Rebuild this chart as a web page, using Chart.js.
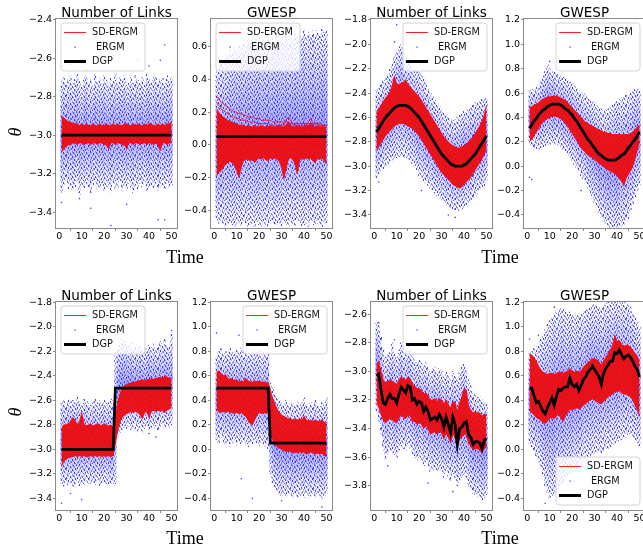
<!DOCTYPE html>
<html>
<head>
<meta charset="utf-8">
<script src="https://cdn.jsdelivr.net/npm/chart.js@4.4.1/dist/chart.umd.min.js"></script>
<style>
  body { margin: 0; width: 643px; height: 550px; overflow: hidden; background: #fff; position: relative; }
  canvas { position: absolute; }
  .title { position: absolute; font: 13.5px "DejaVu Sans"; text-align: center; line-height: 14px; color: #000; white-space: nowrap; }
  .lab { position: absolute; transform: translate(-50%, -50%); font: 18px "Liberation Serif"; color: #000; }
  .theta { position: absolute; transform: translate(-50%, -50%) rotate(-90deg); font: italic 18px "Liberation Serif"; color: #000; }
</style>
</head>
<body>
<script>
const time = [1,2,3,4,5,6,7,8,9,10,11,12,13,14,15,16,17,18,19,20,21,22,23,24,25,
  26,27,28,29,30,31,32,33,34,35,36,37,38,39,40,41,42,43,44,45,46,47,48,49,50];
const xTicks = [0, 10, 20, 30, 40, 50];
const yTicks1 = [-3.4, -3.2, -3.0, -2.8, -2.6, -2.4];
const yTicks2 = [-0.4, -0.2, 0.0, 0.2, 0.4, 0.6];
const yTicks3 = [-3.4, -3.2, -3.0, -2.8, -2.6, -2.4, -2.2, -2.0, -1.8];
const yTicks4 = [-0.4, -0.2, 0.0, 0.2, 0.4, 0.6, 0.8, 1.0, 1.2];
const yTicks7 = [-3.8, -3.6, -3.4, -3.2, -3.0, -2.8, -2.6];

// panel 1: Number of Links, constant
const dgp1T = [1, 50];
const dgp1 = [-3.0, -3.0];
const red1Hi = [-2.90,-2.91,-2.92,-2.93,-2.93,-2.94,-2.94,-2.94,-2.95,-2.94,
  -2.95,-2.94,-2.95,-2.95,-2.94,-2.95,-2.95,-2.94,-2.95,-2.95,
  -2.94,-2.95,-2.95,-2.94,-2.95,-2.94,-2.95,-2.95,-2.94,-2.94,
  -2.95,-2.95,-2.94,-2.95,-2.94,-2.95,-2.95,-2.94,-2.95,-2.94,
  -2.94,-2.95,-2.95,-2.94,-2.95,-2.94,-2.95,-2.94,-2.94,-2.93];
const red1Lo = [-3.09,-3.07,-3.06,-3.05,-3.05,-3.04,-3.04,-3.05,-3.04,-3.04,
  -3.05,-3.04,-3.04,-3.05,-3.04,-3.04,-3.05,-3.04,-3.04,-3.05,
  -3.05,-3.07,-3.04,-3.04,-3.05,-3.04,-3.04,-3.05,-3.05,-3.07,
  -3.04,-3.04,-3.05,-3.04,-3.04,-3.05,-3.04,-3.04,-3.05,-3.04,
  -3.04,-3.05,-3.04,-3.05,-3.08,-3.04,-3.04,-3.05,-3.04,-3.04];
const blue1Hi = [-2.72,-2.70,-2.74,-2.71,-2.69,-2.73,-2.70,-2.68,-2.72,-2.75,
  -2.70,-2.69,-2.73,-2.71,-2.74,-2.68,-2.72,-2.70,-2.73,-2.69,
  -2.71,-2.74,-2.70,-2.72,-2.68,-2.73,-2.70,-2.71,-2.69,-2.74,
  -2.72,-2.70,-2.73,-2.69,-2.71,-2.72,-2.70,-2.74,-2.68,-2.71,
  -2.73,-2.70,-2.69,-2.72,-2.71,-2.70,-2.73,-2.69,-2.72,-2.70];
const blue1Lo = [-3.30,-3.27,-3.25,-3.28,-3.26,-3.29,-3.27,-3.24,-3.31,-3.26,
  -3.28,-3.25,-3.27,-3.30,-3.26,-3.24,-3.28,-3.27,-3.25,-3.29,
  -3.27,-3.26,-3.30,-3.25,-3.28,-3.27,-3.24,-3.29,-3.26,-3.28,
  -3.25,-3.27,-3.30,-3.26,-3.28,-3.25,-3.27,-3.24,-3.29,-3.27,
  -3.26,-3.28,-3.25,-3.30,-3.27,-3.26,-3.28,-3.25,-3.27,-3.26];
const out1X = [1, 5, 9, 12, 14, 23, 30, 35, 40, 44, 45, 47, 47];
const out1Y = [-3.35, -2.63, -3.33, -2.66, -3.38, -3.47, -3.36, -2.61, -2.64, -3.44, -2.61, -2.53, -3.44];

// panel 2: GWESP, constant
const dgp2T = [1, 50];
const dgp2 = [0.05, 0.05];
const red2Hi = [0.22,0.20,0.18,0.17,0.16,0.15,0.14,0.14,0.13,0.13,
  0.12,0.12,0.12,0.11,0.12,0.11,0.11,0.12,0.11,0.11,
  0.12,0.11,0.11,0.11,0.12,0.11,0.11,0.11,0.12,0.11,
  0.11,0.12,0.14,0.12,0.11,0.11,0.12,0.11,0.11,0.11,
  0.12,0.12,0.13,0.11,0.11,0.12,0.11,0.11,0.11,0.11];
const red2Lo = [-0.19,-0.17,-0.16,-0.14,-0.12,-0.11,-0.10,-0.11,-0.13,-0.16,
  -0.20,-0.14,-0.10,-0.09,-0.09,-0.10,-0.09,-0.11,-0.09,-0.08,
  -0.09,-0.08,-0.09,-0.10,-0.08,-0.09,-0.08,-0.09,-0.10,-0.14,
  -0.21,-0.15,-0.09,-0.08,-0.09,-0.12,-0.18,-0.10,-0.08,-0.09,
  -0.08,-0.09,-0.08,-0.10,-0.11,-0.08,-0.09,-0.08,-0.10,-0.12];
const red2Top = [0.30,0.28,0.26,0.25,0.24,0.23,0.22,0.21,0.20,0.20,
  0.19,0.19,0.18,0.18,0.17,0.17,0.17,0.16,0.16,0.16,
  0.15,0.15,0.15,0.15,0.15,0.14,0.14,0.14,0.14,0.14,
  0.14,0.14,0.14,0.13,0.13,0.13,0.13,0.13,0.13,0.13,
  0.13,0.13,0.13,0.13,0.13,0.13,0.12,0.12,0.12,0.12];
const red2Mid = [0.26,0.24,0.22,0.21,0.20,0.19,0.18,0.17,0.17,0.16,
  0.16,0.15,0.15,0.15,0.14,0.14,0.14,0.14,0.13,0.13,
  0.13,0.13,0.13,0.13,0.12,0.12,0.12,0.12,0.12,0.12,
  0.12,0.15,0.17,0.15,0.12,0.12,0.12,0.12,0.12,0.12,
  0.12,0.14,0.16,0.12,0.12,0.14,0.12,0.12,0.12,0.12];
const blue2Hi = [0.45,0.47,0.50,0.52,0.55,0.54,0.58,0.56,0.60,0.58,
  0.62,0.60,0.64,0.61,0.66,0.63,0.62,0.65,0.60,0.66,
  0.62,0.64,0.61,0.67,0.63,0.65,0.62,0.68,0.64,0.66,
  0.63,0.69,0.65,0.67,0.64,0.70,0.66,0.68,0.65,0.70,
  0.67,0.69,0.66,0.71,0.68,0.70,0.67,0.72,0.69,0.70];
const blue2Lo = [-0.46,-0.48,-0.47,-0.49,-0.50,-0.48,-0.47,-0.49,-0.50,-0.48,
  -0.49,-0.50,-0.47,-0.48,-0.50,-0.49,-0.48,-0.50,-0.47,-0.49,
  -0.50,-0.48,-0.49,-0.50,-0.47,-0.48,-0.50,-0.49,-0.48,-0.50,
  -0.47,-0.49,-0.50,-0.48,-0.49,-0.50,-0.47,-0.48,-0.50,-0.49,
  -0.48,-0.50,-0.47,-0.49,-0.50,-0.48,-0.49,-0.50,-0.47,-0.48];
const out2X = [3, 5, 12, 20, 30, 44, 47, 50];
const out2Y = [0.70, 0.74, 0.71, 0.72, 0.70, 0.63, 0.66, 0.60];

// panel 3: Number of Links, sine
const dgp3 = [-2.72,-2.69,-2.66,-2.63,-2.60,-2.58,-2.56,-2.54,-2.52,-2.51,
  -2.50,-2.50,-2.50,-2.50,-2.51,-2.52,-2.54,-2.56,-2.58,-2.60,
  -2.63,-2.66,-2.69,-2.72,-2.75,-2.78,-2.81,-2.84,-2.87,-2.90,
  -2.92,-2.94,-2.96,-2.98,-2.99,-3.00,-3.00,-3.00,-3.00,-2.99,
  -2.98,-2.96,-2.94,-2.92,-2.90,-2.87,-2.84,-2.81,-2.78,-2.75];
const red3Hi = [-2.57,-2.53,-2.50,-2.47,-2.44,-2.42,-2.39,-2.34,-2.26,-2.33,
  -2.33,-2.32,-2.31,-2.29,-2.33,-2.35,-2.37,-2.39,-2.41,-2.43,
  -2.46,-2.49,-2.52,-2.55,-2.58,-2.61,-2.64,-2.67,-2.70,-2.73,
  -2.76,-2.78,-2.80,-2.82,-2.83,-2.84,-2.85,-2.85,-2.84,-2.83,
  -2.82,-2.80,-2.78,-2.76,-2.73,-2.70,-2.67,-2.63,-2.58,-2.50];
const red3Lo = [-2.87,-2.84,-2.81,-2.78,-2.75,-2.73,-2.71,-2.69,-2.67,-2.66,
  -2.65,-2.65,-2.65,-2.66,-2.67,-2.68,-2.69,-2.71,-2.73,-2.75,
  -2.78,-2.81,-2.84,-2.87,-2.90,-2.93,-2.96,-2.99,-3.02,-3.05,
  -3.07,-3.09,-3.11,-3.13,-3.15,-3.16,-3.17,-3.18,-3.17,-3.15,
  -3.13,-3.11,-3.09,-3.06,-3.03,-3.00,-2.97,-2.94,-2.90,-2.86];
const blue3Hi = [-2.38,-2.36,-2.33,-2.30,-2.28,-2.25,-2.20,-2.16,-2.10,-2.05,
  -2.02,-2.00,-2.05,-2.10,-2.12,-2.15,-2.18,-2.20,-2.22,-2.22,
  -2.25,-2.28,-2.32,-2.36,-2.40,-2.43,-2.46,-2.49,-2.51,-2.54,
  -2.56,-2.58,-2.60,-2.61,-2.62,-2.62,-2.60,-2.58,-2.57,-2.55,
  -2.54,-2.53,-2.52,-2.50,-2.48,-2.47,-2.46,-2.45,-2.44,-2.44];
const blue3Lo = [-3.10,-3.06,-3.04,-3.02,-3.00,-2.98,-2.96,-2.95,-2.94,-2.93,
  -2.92,-2.92,-2.92,-2.93,-2.94,-2.96,-2.98,-3.00,-3.03,-3.08,
  -3.10,-3.12,-3.14,-3.16,-3.18,-3.20,-3.22,-3.24,-3.26,-3.28,
  -3.30,-3.32,-3.33,-3.34,-3.35,-3.36,-3.36,-3.36,-3.35,-3.34,
  -3.33,-3.31,-3.29,-3.27,-3.25,-3.22,-3.20,-3.18,-3.16,-3.12];
const out3X = [10, 9, 21, 33, 36, 2];
const out3Y = [-1.84, -1.98, -3.20, -3.40, -3.42, -3.13];

// panel 4: GWESP, sine
const dgp4 = [0.31,0.34,0.37,0.39,0.42,0.44,0.46,0.47,0.49,0.50,
  0.51,0.51,0.51,0.51,0.50,0.49,0.47,0.46,0.44,0.42,
  0.39,0.37,0.34,0.31,0.28,0.25,0.22,0.20,0.17,0.15,
  0.12,0.10,0.09,0.07,0.06,0.05,0.05,0.05,0.05,0.06,
  0.07,0.09,0.10,0.12,0.15,0.17,0.20,0.22,0.25,0.28];
const red4Hi = [0.48,0.49,0.50,0.51,0.52,0.54,0.55,0.56,0.57,0.57,
  0.57,0.58,0.57,0.57,0.56,0.55,0.54,0.52,0.50,0.48,
  0.46,0.44,0.42,0.40,0.38,0.36,0.35,0.34,0.33,0.32,
  0.31,0.30,0.29,0.28,0.28,0.27,0.27,0.26,0.26,0.26,
  0.26,0.26,0.26,0.26,0.26,0.27,0.28,0.30,0.32,0.34];
const red4Lo = [0.20,0.22,0.25,0.28,0.31,0.34,0.36,0.38,0.39,0.40,
  0.41,0.41,0.41,0.40,0.39,0.37,0.35,0.33,0.30,0.27,
  0.24,0.21,0.18,0.15,0.13,0.11,0.09,0.08,0.07,0.05,
  0.04,0.02,0.01,0.00,-0.02,-0.03,-0.04,-0.05,-0.06,-0.08,
  -0.10,-0.12,-0.16,-0.10,-0.07,-0.04,0.00,0.06,0.13,0.20];
const blue4Hi = [0.62,0.63,0.64,0.65,0.66,0.70,0.74,0.78,0.84,0.80,
  0.78,0.78,0.76,0.75,0.74,0.73,0.72,0.70,0.69,0.68,
  0.66,0.64,0.62,0.60,0.60,0.58,0.56,0.55,0.53,0.52,
  0.50,0.48,0.47,0.46,0.46,0.47,0.48,0.50,0.52,0.53,
  0.55,0.56,0.57,0.58,0.58,0.60,0.62,0.63,0.64,0.62];
const blue4Lo = [0.18,0.16,0.15,0.14,0.14,0.15,0.16,0.17,0.18,0.18,
  0.19,0.19,0.18,0.17,0.16,0.14,0.12,0.10,0.07,0.04,
  0.01,-0.02,-0.05,-0.08,-0.11,-0.14,-0.18,-0.22,-0.26,-0.30,
  -0.34,-0.38,-0.42,-0.45,-0.47,-0.49,-0.50,-0.50,-0.50,-0.50,
  -0.50,-0.49,-0.48,-0.46,-0.43,-0.38,-0.32,-0.26,-0.20,-0.15];
const out4X = [1, 2, 10, 24];
const out4Y = [-0.09, -0.11, 0.86, -0.20];

// panel 5: Number of Links, step
const dgp5T = [1, 24, 25, 50];
const dgp5 = [-3.0, -3.0, -2.5, -2.5];
const red5Hi = [-2.83,-2.80,-2.80,-2.79,-2.77,-2.74,-2.76,-2.80,-2.78,-2.70,
  -2.79,-2.81,-2.80,-2.79,-2.81,-2.80,-2.79,-2.80,-2.81,-2.79,
  -2.80,-2.81,-2.80,-2.82,-2.75,-2.62,-2.55,-2.50,-2.48,-2.47,
  -2.46,-2.46,-2.45,-2.45,-2.44,-2.44,-2.43,-2.44,-2.43,-2.43,
  -2.42,-2.43,-2.42,-2.42,-2.41,-2.42,-2.40,-2.41,-2.42,-2.42];
const red5Lo = [-3.14,-3.10,-3.08,-3.07,-3.06,-3.06,-3.05,-3.06,-3.05,-3.06,
  -3.05,-3.06,-3.06,-3.05,-3.06,-3.05,-3.06,-3.05,-3.06,-3.05,
  -3.06,-3.05,-3.06,-3.05,-2.95,-2.85,-2.78,-2.74,-2.72,-2.71,
  -2.70,-2.69,-2.70,-2.69,-2.70,-2.72,-2.75,-2.70,-2.69,-2.74,
  -2.69,-2.68,-2.69,-2.68,-2.69,-2.68,-2.70,-2.68,-2.67,-2.66];
const blue5Hi = [-2.62,-2.60,-2.63,-2.58,-2.61,-2.60,-2.62,-2.57,-2.61,-2.63,
  -2.59,-2.62,-2.60,-2.64,-2.61,-2.59,-2.62,-2.60,-2.63,-2.60,
  -2.61,-2.62,-2.59,-2.60,-2.22,-2.18,-2.14,-2.10,-2.12,-2.14,
  -2.16,-2.13,-2.18,-2.15,-2.17,-2.14,-2.19,-2.16,-2.18,-2.15,
  -2.17,-2.14,-2.18,-2.16,-2.12,-2.14,-2.10,-2.15,-2.16,-2.06];
const blue5Lo = [-3.28,-3.30,-3.26,-3.29,-3.27,-3.31,-3.28,-3.26,-3.30,-3.27,
  -3.29,-3.26,-3.30,-3.28,-3.27,-3.29,-3.26,-3.30,-3.28,-3.27,
  -3.29,-3.28,-3.30,-3.28,-3.30,-2.90,-2.86,-2.84,-2.82,-2.83,
  -2.81,-2.84,-2.82,-2.83,-2.85,-2.82,-2.86,-2.83,-2.81,-2.84,
  -2.82,-2.83,-2.81,-2.84,-2.82,-2.80,-2.83,-2.81,-2.82,-2.80];
const out5X = [1, 10, 5, 40, 43, 29, 50];
const out5Y = [-3.44, -3.41, -3.36, -2.87, -2.90, -2.05, -2.03];

// panel 6: GWESP, step
const dgp6T = [1, 24, 25, 50];
const dgp6 = [0.5, 0.5, 0.05, 0.05];
const red6Hi = [0.63,0.64,0.62,0.60,0.61,0.58,0.57,0.58,0.56,0.57,
  0.55,0.56,0.55,0.58,0.56,0.55,0.55,0.56,0.55,0.56,
  0.55,0.55,0.54,0.55,0.48,0.42,0.37,0.33,0.30,0.28,
  0.27,0.26,0.25,0.25,0.24,0.25,0.24,0.25,0.24,0.27,
  0.24,0.23,0.24,0.23,0.24,0.23,0.23,0.24,0.22,0.22];
const red6Lo = [0.32,0.31,0.30,0.31,0.30,0.31,0.30,0.30,0.29,0.30,
  0.29,0.30,0.28,0.27,0.24,0.21,0.20,0.24,0.28,0.30,
  0.29,0.30,0.29,0.31,0.15,0.08,0.04,0.02,0.01,0.00,
  -0.01,-0.02,-0.01,-0.02,-0.03,-0.02,-0.03,-0.02,-0.03,-0.02,
  -0.04,-0.03,-0.02,-0.03,-0.04,-0.03,-0.04,-0.03,-0.05,-0.06];
const blue6Hi = [0.76,0.80,0.82,0.78,0.81,0.79,0.83,0.80,0.78,0.82,
  0.80,0.83,0.79,0.81,0.80,0.78,0.82,0.80,0.79,0.81,
  0.77,0.80,0.78,0.79,0.55,0.50,0.45,0.42,0.40,0.38,
  0.37,0.40,0.36,0.38,0.37,0.35,0.39,0.36,0.38,0.42,
  0.37,0.35,0.38,0.36,0.40,0.37,0.35,0.38,0.36,0.42];
const blue6Lo = [0.08,0.05,0.10,0.06,0.04,0.07,0.02,0.05,0.08,0.03,
  0.06,0.04,0.07,0.05,0.02,0.06,0.04,0.08,0.05,0.03,
  0.06,0.04,0.02,0.00,-0.20,-0.28,-0.32,-0.35,-0.36,-0.38,
  -0.37,-0.39,-0.36,-0.38,-0.40,-0.37,-0.39,-0.38,-0.36,-0.39,
  -0.37,-0.40,-0.38,-0.36,-0.39,-0.37,-0.38,-0.40,-0.38,-0.36];
const out6X = [1, 11, 12, 17, 48, 30];
const out6Y = [0.95, 0.93, -0.24, -0.40, -0.47, -0.42];

// panel 7: Number of Links, random walk
const dgp7 = [-3.03,-3.02,-3.13,-3.22,-3.23,-3.19,-3.16,-3.19,-3.19,-3.22,
  -3.16,-3.11,-3.13,-3.15,-3.10,-3.11,-3.20,-3.19,-3.23,-3.21,
  -3.22,-3.28,-3.25,-3.28,-3.34,-3.33,-3.32,-3.34,-3.30,-3.33,
  -3.39,-3.32,-3.37,-3.43,-3.32,-3.37,-3.51,-3.40,-3.39,-3.36,
  -3.35,-3.44,-3.46,-3.51,-3.49,-3.49,-3.50,-3.54,-3.48,-3.47];
const red7Hi = [-2.95,-2.93,-3.00,-3.06,-3.08,-3.07,-3.06,-3.07,-3.08,-3.09,
  -3.06,-3.04,-3.05,-3.06,-3.04,-3.05,-3.09,-3.10,-3.12,-3.12,
  -3.13,-3.16,-3.15,-3.17,-3.20,-3.20,-3.19,-3.21,-3.19,-3.20,
  -3.23,-3.20,-3.23,-3.26,-3.21,-3.22,-3.28,-3.22,-3.18,-3.12,
  -3.13,-3.24,-3.27,-3.29,-3.28,-3.29,-3.29,-3.31,-3.30,-3.30];
const red7Lo = [-3.22,-3.25,-3.30,-3.34,-3.36,-3.34,-3.33,-3.34,-3.35,-3.36,
  -3.33,-3.30,-3.32,-3.33,-3.31,-3.31,-3.35,-3.35,-3.37,-3.36,
  -3.37,-3.40,-3.38,-3.40,-3.44,-3.43,-3.42,-3.44,-3.42,-3.43,
  -3.47,-3.43,-3.46,-3.50,-3.44,-3.46,-3.53,-3.47,-3.46,-3.44,
  -3.44,-3.50,-3.52,-3.55,-3.54,-3.54,-3.55,-3.57,-3.54,-3.53];
const blue7Hi = [-2.65,-2.68,-2.75,-2.85,-2.90,-2.88,-2.87,-2.80,-2.88,-2.90,
  -2.85,-2.80,-2.84,-2.86,-2.83,-2.85,-2.90,-2.92,-2.94,-2.92,
  -2.93,-2.96,-2.94,-2.97,-3.00,-2.98,-2.97,-3.00,-2.98,-3.00,
  -3.04,-3.00,-3.02,-3.06,-3.00,-3.02,-3.06,-3.00,-2.97,-2.95,
  -2.98,-3.06,-3.10,-3.14,-3.16,-3.18,-3.18,-3.20,-3.22,-3.22];
const blue7Lo = [-3.28,-3.35,-3.45,-3.55,-3.62,-3.58,-3.55,-3.57,-3.58,-3.60,
  -3.55,-3.52,-3.54,-3.55,-3.52,-3.54,-3.58,-3.60,-3.62,-3.60,
  -3.62,-3.66,-3.63,-3.66,-3.70,-3.69,-3.68,-3.70,-3.68,-3.70,
  -3.74,-3.70,-3.73,-3.77,-3.72,-3.74,-3.80,-3.76,-3.74,-3.72,
  -3.74,-3.80,-3.83,-3.86,-3.86,-3.87,-3.88,-3.90,-3.88,-3.86];
const out7X = [9, 24, 35, 2, 6];
const out7Y = [-2.78, -3.78, -3.84, -2.66, -3.66];

// panel 8: GWESP, random walk
const dgp8 = [0.50,0.50,0.44,0.38,0.39,0.35,0.31,0.29,0.34,0.38,
  0.42,0.36,0.43,0.49,0.48,0.50,0.51,0.51,0.58,0.53,
  0.51,0.53,0.48,0.52,0.57,0.59,0.63,0.65,0.68,0.65,
  0.62,0.59,0.53,0.62,0.66,0.69,0.72,0.72,0.79,0.78,
  0.81,0.77,0.74,0.76,0.77,0.75,0.72,0.68,0.65,0.59];
const red8Hi = [0.78,0.77,0.75,0.72,0.68,0.65,0.63,0.62,0.61,0.62,
  0.62,0.61,0.62,0.63,0.63,0.62,0.63,0.64,0.66,0.64,
  0.63,0.64,0.63,0.64,0.67,0.69,0.71,0.72,0.74,0.74,
  0.73,0.71,0.69,0.72,0.75,0.78,0.81,0.85,0.93,0.88,
  0.89,0.86,0.84,0.85,0.85,0.83,0.81,0.78,0.76,0.72];
const red8Lo = [0.32,0.30,0.28,0.26,0.25,0.24,0.22,0.21,0.23,0.25,
  0.26,0.25,0.27,0.29,0.25,0.23,0.27,0.30,0.33,0.32,
  0.33,0.34,0.33,0.34,0.36,0.37,0.39,0.40,0.41,0.40,
  0.39,0.38,0.37,0.39,0.41,0.43,0.44,0.45,0.47,0.47,
  0.48,0.46,0.45,0.45,0.44,0.43,0.40,0.36,0.32,0.27];
const blue8Hi = [0.78,0.80,0.82,0.84,0.86,0.90,0.94,0.98,1.02,1.05,
  1.08,1.10,1.12,1.14,1.15,1.14,1.12,1.10,1.12,1.10,
  1.08,1.10,1.09,1.10,1.12,1.14,1.15,1.16,1.18,1.18,
  1.17,1.16,1.15,1.17,1.19,1.20,1.20,1.20,1.20,1.20,
  1.20,1.20,1.20,1.19,1.18,1.16,1.12,1.08,1.04,1.00];
const blue8Lo = [0.05,0.02,-0.02,-0.06,-0.10,-0.15,-0.22,-0.30,-0.35,-0.40,
  -0.38,-0.36,-0.34,-0.30,-0.30,-0.28,-0.25,-0.22,-0.20,-0.20,
  -0.18,-0.16,-0.15,-0.12,-0.10,-0.08,-0.06,-0.05,-0.04,-0.03,
  -0.02,-0.02,-0.03,-0.01,0.00,0.00,0.02,0.04,0.05,0.06,
  0.07,0.08,0.10,0.10,0.12,0.12,0.10,0.08,0.05,0.02];
const out8X = [1, 5, 8, 12];
const out8Y = [0.90, 0.93, -0.44, 1.16];

const panels = [
  { title: "Number of Links", left: 56, top: 19, h: 209, min: -3.483, max: -2.395, yTicks: yTicks1,
    dgpT: dgp1T, dgp: dgp1, redHi: red1Hi, redLo: red1Lo, extra: [], blueHi: blue1Hi, blueLo: blue1Lo, outX: out1X, outY: out1Y, legend: "ul" },
  { title: "GWESP", left: 211, top: 19, h: 209, min: -0.51, max: 0.77, yTicks: yTicks2,
    dgpT: dgp2T, dgp: dgp2, redHi: red2Hi, redLo: red2Lo, extra: [red2Top, red2Mid], blueHi: blue2Hi, blueLo: blue2Lo, outX: out2X, outY: out2Y, legend: "ul" },
  { title: "Number of Links", left: 371, top: 19, h: 209, min: -3.507, max: -1.792, yTicks: yTicks3,
    dgpT: time, dgp: dgp3, redHi: red3Hi, redLo: red3Lo, extra: [], blueHi: blue3Hi, blueLo: blue3Lo, outX: out3X, outY: out3Y, legend: "ur" },
  { title: "GWESP", left: 524, top: 19, h: 209, min: -0.507, max: 1.208, yTicks: yTicks4,
    dgpT: time, dgp: dgp4, redHi: red4Hi, redLo: red4Lo, extra: [], blueHi: blue4Hi, blueLo: blue4Lo, outX: out4X, outY: out4Y, legend: "ur" },
  { title: "Number of Links", left: 56, top: 302, h: 208, min: -3.495, max: -1.797, yTicks: yTicks3,
    dgpT: dgp5T, dgp: dgp5, redHi: red5Hi, redLo: red5Lo, extra: [], blueHi: blue5Hi, blueLo: blue5Lo, outX: out5X, outY: out5Y, legend: "ul" },
  { title: "GWESP", left: 211, top: 302, h: 208, min: -0.495, max: 1.202, yTicks: yTicks4,
    dgpT: dgp6T, dgp: dgp6, redHi: red6Hi, redLo: red6Lo, extra: [], blueHi: blue6Hi, blueLo: blue6Lo, outX: out6X, outY: out6Y, legend: "ur" },
  { title: "Number of Links", left: 371, top: 302, h: 208, min: -3.968, max: -2.516, yTicks: yTicks7,
    dgpT: time, dgp: dgp7, redHi: red7Hi, redLo: red7Lo, extra: [], blueHi: blue7Hi, blueLo: blue7Lo, outX: out7X, outY: out7Y, legend: "ur" },
  { title: "GWESP", left: 524, top: 302, h: 208, min: -0.495, max: 1.202, yTicks: yTicks4,
    dgpT: time, dgp: dgp8, redHi: red8Hi, redLo: red8Lo, extra: [], blueHi: blue8Hi, blueLo: blue8Lo, outX: out8X, outY: out8Y, legend: "lr" },
];

const PW = 121;   // plot width
const tickFont = { family: "DejaVu Sans", size: 9.5 };

/* speckle used for the ERGM estimate columns: short vertical dashes, irregular rows */
const dotPat = (() => {
  const rows = "05386127945083167249350861942773501682490538716";
  const W = 23, H = 10;
  const c = document.createElement("canvas");
  c.width = W; c.height = H;
  const g = c.getContext("2d");
  for (let i = 0; i < W; i++) {
    g.fillStyle = "rgba(20,20,255,0.8)";
    g.fillRect(i, +rows[2 * i], 1, 2);
    g.fillStyle = "rgba(40,40,255,0.4)";
    g.fillRect(i, +rows[2 * i + 1], 1, 2);
  }
  return g.createPattern(c, "repeat");
})();

/* denser blue towards the middle of each column */
function coreShade(c) {
  const ys = c.chart.scales.y;
  const v = c.raw && c.raw.y;
  if (!ys || !v) return "rgba(40,40,255,0.2)";
  const top = ys.getPixelForValue(v[1]), bot = ys.getPixelForValue(v[0]);
  if (!isFinite(top) || !isFinite(bot) || bot - top < 1) return "rgba(40,40,255,0.2)";
  const g = c.chart.ctx.createLinearGradient(0, top, 0, bot);
  g.addColorStop(0, "rgba(40,40,255,0)");
  g.addColorStop(0.5, "rgba(40,40,255,0.45)");
  g.addColorStop(1, "rgba(40,40,255,0)");
  return g;
}

const pts = (xs, ys) => xs.map((x, i) => ({ x: x, y: ys[i] }));
const fmt = (v) => (v < -1e-9 ? "\u2212" : "") + Math.abs(v).toFixed(1);

/* frame + matplotlib-like legend box */
function framePlugin(pos) {
  return {
    id: "frameLegend",
    afterDraw(chart) {
      const { ctx, chartArea: a } = chart;
      ctx.save();
      ctx.strokeStyle = "#8a8a8a";
      ctx.lineWidth = 1;
      ctx.strokeRect(Math.round(a.left) - 0.5, Math.round(a.top) - 0.5,
        Math.round(a.right - a.left) + 1, Math.round(a.bottom - a.top) + 1);

      const w = 84, h = 48;
      const x = pos === "ul" ? a.left + 5 : a.right - 5 - w;
      const y = pos === "lr" ? a.bottom - 5 - h : a.top + 4;
      ctx.beginPath();
      ctx.roundRect(x, y, w, h, 3);
      ctx.fillStyle = "rgba(255,255,255,0.8)";
      ctx.fill();
      ctx.strokeStyle = "#d4d4d4";
      ctx.stroke();

      const r1 = y + 9.5, r2 = y + 24, r3 = y + 38.5;
      ctx.strokeStyle = "#ff2020";
      ctx.lineWidth = 1;
      ctx.beginPath(); ctx.moveTo(x + 3, r1); ctx.lineTo(x + 25, r1); ctx.stroke();
      ctx.fillStyle = "rgba(20,20,255,0.9)";
      ctx.fillRect(x + 13.5, r2 - 0.5, 1.2, 1.2);
      ctx.strokeStyle = "#000";
      ctx.lineWidth = 3;
      ctx.beginPath(); ctx.moveTo(x + 3, r3); ctx.lineTo(x + 25, r3); ctx.stroke();

      ctx.fillStyle = "#111";
      ctx.font = "9.7px 'DejaVu Sans'";
      ctx.textBaseline = "middle";
      ctx.fillText("SD-ERGM", x + 31, r1);
      ctx.fillText("ERGM", x + 35, r2);
      ctx.fillText("DGP", x + 31, r3);
      ctx.restore();
    },
  };
}

function makePanel(p) {
  const cv = document.createElement("canvas");
  cv.width = PW + 50;
  cv.height = p.h + 30;
  cv.style.left = (p.left - 46) + "px";
  cv.style.top = (p.top - 8) + "px";
  document.body.appendChild(cv);

  const t = document.createElement("div");
  t.className = "title";
  t.style.left = p.left + "px";
  t.style.width = PW + "px";
  t.style.top = (p.top - 14) + "px";
  t.textContent = p.title;
  document.body.appendChild(t);

  const ergm = time.map((x, i) => ({ x: x, y: [p.blueLo[i], p.blueHi[i]] }));
  const redLine = { borderColor: "rgba(255,0,0,0.95)", borderWidth: 0.8, pointRadius: 0, fill: false, clip: 0 };

  new Chart(cv, {
    type: "line",
    data: {
      datasets: [
        { label: "DGP", data: pts(p.dgpT, p.dgp), borderColor: "#000", borderWidth: 2.8,
          pointRadius: 0, fill: false, clip: 0 },
        { ...redLine, label: "SD-ERGM", data: pts(time, p.redHi), fill: "+1", backgroundColor: "rgba(238,8,8,0.92)" },
        { ...redLine, label: "SD-ERGM low", data: pts(time, p.redLo) },
        ...p.extra.map((arr) => ({ ...redLine, label: "SD-ERGM path", data: pts(time, arr) })),
        { type: "bar", label: "ERGM", data: ergm,
          backgroundColor: dotPat, borderWidth: 0, barThickness: 1.4, grouped: false, clip: 0 },
        { type: "bar", label: "ERGM core", data: ergm,
          backgroundColor: coreShade, borderWidth: 0, barThickness: 1.4, grouped: false, clip: 0 },
        { type: "scatter", label: "ERGM out", data: pts(p.outX, p.outY), pointRadius: 0.8,
          backgroundColor: "rgba(20,20,255,0.8)", borderWidth: 0, clip: 0 },
      ],
    },
    options: {
      responsive: false,
      animation: false,
      devicePixelRatio: 1,
      layout: { padding: { top: 8, right: 4, left: 0, bottom: 0 } },
      plugins: { legend: { display: false }, tooltip: { enabled: false } },
      scales: {
        x: {
          type: "linear", min: -1.45, max: 52.45, offset: false,
          afterFit: (s) => { s.height = 22; },
          afterBuildTicks: (s) => { s.ticks = xTicks.map((v) => ({ value: v })); },
          grid: { drawOnChartArea: false, tickLength: 3, color: "#8a8a8a" },
          border: { display: false },
          ticks: { font: tickFont, color: "#000", padding: 0, maxRotation: 0, autoSkip: false },
        },
        y: {
          type: "linear", min: p.min, max: p.max,
          afterFit: (s) => { s.width = 46; },
          afterBuildTicks: (s) => { s.ticks = p.yTicks.map((v) => ({ value: v })); },
          grid: { drawOnChartArea: false, tickLength: 3, color: "#8a8a8a" },
          border: { display: false },
          ticks: { font: tickFont, color: "#000", padding: 1, autoSkip: false, callback: fmt },
        },
      },
    },
    plugins: [framePlugin(p.legend)],
  });
}

panels.forEach(makePanel);

/* shared axis labels */
[[185, 257], [500, 257], [185, 538], [500, 538]].forEach(([x, y]) => {
  const d = document.createElement("div");
  d.className = "lab";
  d.style.left = x + "px";
  d.style.top = y + "px";
  d.textContent = "Time";
  document.body.appendChild(d);
});
[[15, 132], [15, 412]].forEach(([x, y]) => {
  const d = document.createElement("div");
  d.className = "theta";
  d.style.left = x + "px";
  d.style.top = y + "px";
  d.textContent = "\u03b8";
  document.body.appendChild(d);
});
</script>
</body>
</html>
